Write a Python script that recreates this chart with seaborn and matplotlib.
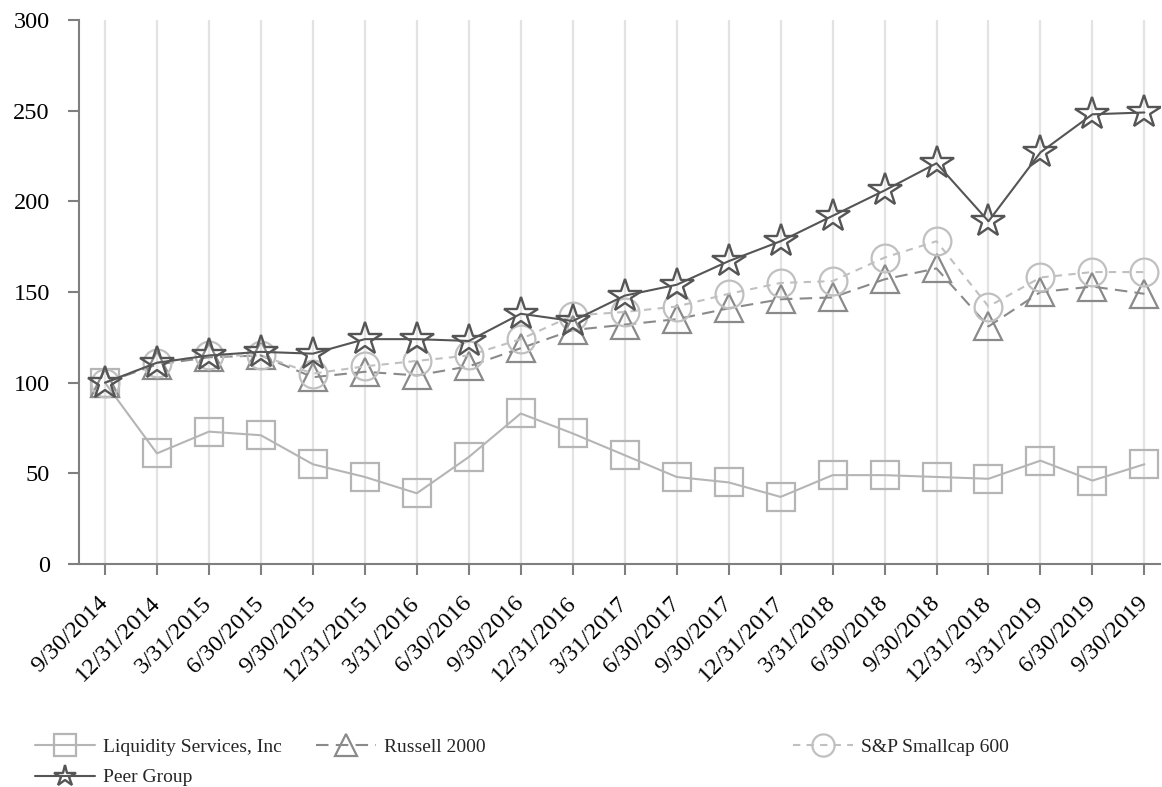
import matplotlib
matplotlib.use("Agg")
import matplotlib.pyplot as plt
import seaborn as sns
import pandas as pd
import numpy as np

dates = ["9/30/2014", "12/31/2014", "3/31/2015", "6/30/2015", "9/30/2015", "12/31/2015",
         "3/31/2016", "6/30/2016", "9/30/2016", "12/31/2016", "3/31/2017", "6/30/2017",
         "9/30/2017", "12/31/2017", "3/31/2018", "6/30/2018", "9/30/2018", "12/31/2018",
         "3/31/2019", "6/30/2019", "9/30/2019"]
liquidity = [100, 61, 73, 71, 55, 48, 39, 59, 83, 72, 60, 48, 45, 37, 49, 49, 48, 47, 57, 46, 55]
russell = [100, 110, 114, 115, 103, 106, 104, 109, 119, 129, 132, 135, 141, 146, 147, 157, 163, 131, 150, 153, 149]
sp600 = [100, 111, 115, 115, 105, 109, 112, 115, 124, 137, 139, 142, 149, 155, 156, 169, 178, 142, 158, 161, 161]
peer = [100, 111, 115, 117, 116, 124, 124, 123, 138, 134, 148, 154, 167, 178, 192, 206, 221, 189, 227, 248, 249]
yticks = [0, 50, 100, 150, 200, 250, 300]

sns.set_style("white")
plt.rcParams['font.family'] = ['Liberation Serif', 'DejaVu Serif']

W, H = 1162, 787
fig = plt.figure(figsize=(W / 100, H / 100), dpi=100)
ax = fig.add_axes([79 / W, 1 - 564 / H, (1160 - 79) / W, (564 - 20) / H])

x = np.arange(len(dates))
df = pd.DataFrame({"x": x, "liq": liquidity, "rus": russell, "sp": sp600, "peer": peer})

ms = 20
sns.lineplot(data=df, x="x", y="liq", ax=ax, color="#b5b5b5", lw=1.5, marker="s",
             markersize=ms, fillstyle="none", markeredgewidth=1.6, markeredgecolor="#b5b5b5")
l_liq = ax.get_lines()[-1]
sns.lineplot(data=df, x="x", y="rus", ax=ax, color="#8a8a8a", lw=1.5, marker="^",
             markersize=ms, fillstyle="none", markeredgewidth=1.6, markeredgecolor="#8a8a8a",
             linestyle=(0, (6, 3.5)))
l_rus = ax.get_lines()[-1]
sns.lineplot(data=df, x="x", y="sp", ax=ax, color="#c0c0c0", lw=1.5, marker="o",
             markersize=ms, fillstyle="none", markeredgewidth=1.6, markeredgecolor="#c0c0c0",
             linestyle=(0, (3.5, 3)))
l_sp = ax.get_lines()[-1]
sns.lineplot(data=df, x="x", y="peer", ax=ax, color="#555555", lw=1.5, marker="*",
             markersize=ms + 5, fillstyle="none", markeredgewidth=1.7, markeredgecolor="#555555")
l_peer = ax.get_lines()[-1]

ax.set_xlim(-0.5, 20.3)
ax.set_ylim(0, 300)
ax.set_xticks(x)
ax.set_xticklabels(dates, rotation=45, ha="right", va="center", rotation_mode="anchor")
ax.set_yticks(yticks)
ax.set_yticklabels([str(v) for v in yticks])
ax.set_xlabel("")
ax.set_ylabel("")

ax.grid(False)
for xi in x:
    ax.axvline(xi, color="#e3e3e3", lw=1.6, zorder=0)

for s in ["top", "right"]:
    ax.spines[s].set_visible(False)
for s in ["left", "bottom"]:
    ax.spines[s].set_color("#7f7f7f")
    ax.spines[s].set_linewidth(1.5)
ax.tick_params(axis="both", which="both", length=8, width=1.5, color="#7f7f7f",
               labelsize=17.5, labelcolor="black", direction="out")
ax.tick_params(axis="x", pad=18, bottom=True)
ax.tick_params(axis="y", pad=13, left=True)

lfs = 14
leg1 = fig.legend([l_liq, l_peer, l_rus], ["Liquidity Services, Inc", "Peer Group", "Russell 2000"],
                  ncol=2, loc="upper left", bbox_to_anchor=(35 / W, 1 - 738 / H),
                  frameon=False, fontsize=lfs, handlelength=3.1, handletextpad=0.41,
                  columnspacing=1.75, labelspacing=0.68, borderpad=0, borderaxespad=0)
leg2 = fig.legend([l_sp], ["S&P Smallcap 600"], loc="upper left",
                  bbox_to_anchor=(793 / W, 1 - 738 / H), frameon=False, fontsize=lfs,
                  handlelength=3.1, handletextpad=0.41, borderpad=0, borderaxespad=0)
for leg in (leg1, leg2):
    for lh in leg.legend_handles:
        lh.set_markersize(16)

fig.savefig("out.png", dpi=100)
